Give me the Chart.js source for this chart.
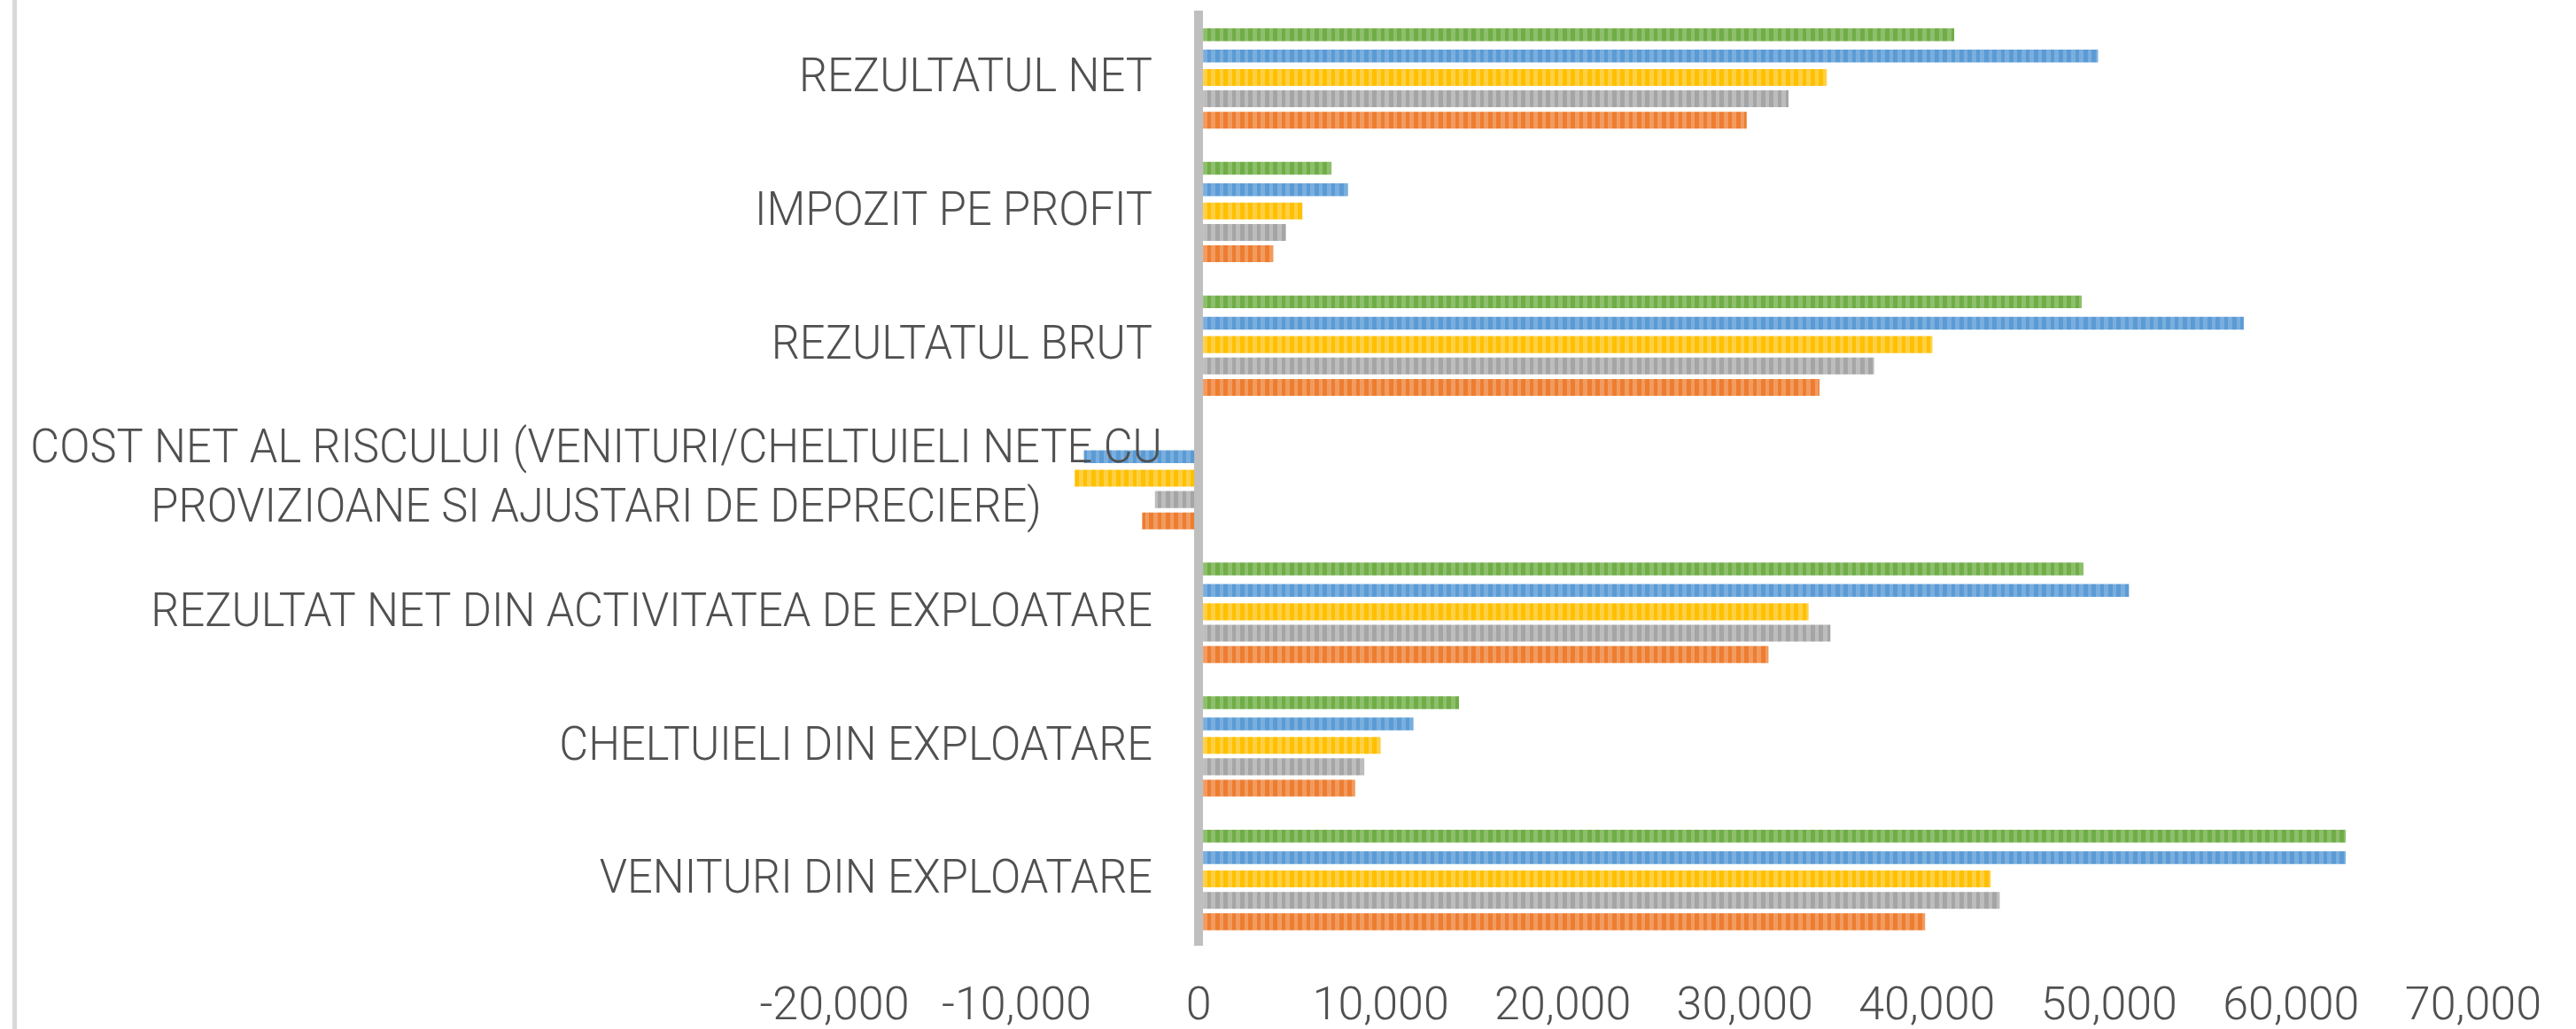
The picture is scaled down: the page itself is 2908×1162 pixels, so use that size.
<!DOCTYPE html>
<html><head><meta charset="utf-8">
<script src="https://cdn.jsdelivr.net/npm/chart.js@4.4.1/dist/chart.umd.min.js"></script>
<style>html,body{margin:0;padding:0;background:#fff;overflow:hidden}canvas{display:block}</style>
</head><body><canvas id="c" width="2908" height="1162"></canvas>
<script>
// Categories, top to bottom (multi-line labels as arrays)
const categories = [
  ['REZULTATUL NET'],
  ['IMPOZIT PE PROFIT'],
  ['REZULTATUL BRUT'],
  ['COST NET AL RISCULUI (VENITURI/CHELTUIELI NETE CU', 'PROVIZIOANE SI AJUSTARI DE DEPRECIERE)'],
  ['REZULTAT NET DIN ACTIVITATEA DE EXPLOATARE'],
  ['CHELTUIELI DIN EXPLOATARE'],
  ['VENITURI DIN EXPLOATARE']
];
// Series, drawn top to bottom within each category
const seriesNames = ['Seria 5', 'Seria 4', 'Seria 3', 'Seria 2', 'Seria 1'];
const greenValues  = [41500, 7300, 48500,     0, 48600, 14300, 63000];
const blueValues   = [49400, 8200, 57400, -6300, 51100, 11800, 63000];
const yellowValues = [34500, 5700, 40300, -6800, 33500, 10000, 43500];
const grayValues   = [32400, 4800, 37100, -2400, 34700,  9100, 44000];
const orangeValues = [30100, 4100, 34100, -3100, 31300,  8600, 39900];
// Value axis
const xMin = -20000, xMax = 70000, xStep = 10000;

function stripes(dark, light) {
  const c = document.createElement('canvas');
  c.width = 28; c.height = 4;
  const g = c.getContext('2d');
  g.fillStyle = light; g.fillRect(0, 0, 28, 4);
  g.fillStyle = dark;
  g.fillRect(0, 0, 5, 4); g.fillRect(9, 0, 5, 4); g.fillRect(19, 0, 4, 4);
  return g.createPattern(c, 'repeat');
}

const leftBorder = {
  id: 'leftBorder',
  beforeDraw(chart) {
    const ctx = chart.ctx;
    ctx.save();
    ctx.fillStyle = '#D9D9D9';
    ctx.fillRect(14, 0, 5, chart.height);
    ctx.restore();
  }
};

const catLabels = {
  id: 'catLabels',
  afterDatasetsDraw(chart) {
    const ctx = chart.ctx, xs = chart.scales.x, ys = chart.scales.y;
    const zeroX = xs.getPixelForValue(0);
    const size = 53, sx = 0.955, lh = 67, capH = 0.711 * size;
    ctx.save();
    ctx.fillStyle = '#505050';
    ctx.font = '300 ' + size + 'px Roboto';
    ctx.textBaseline = 'alphabetic';
    categories.forEach((lines, i) => {
      const cy = ys.getPixelForTick(i);
      const n = lines.length;
      lines.forEach((t, j) => {
        const by = cy - 3 + capH / 2 + (j - (n - 1) / 2) * lh;
        ctx.save();
        if (n === 1) { ctx.translate(zeroX - 52, by); ctx.textAlign = 'right'; }
        else { ctx.translate(zeroX - 680, by); ctx.textAlign = 'center'; }
        ctx.scale(sx, 1);
        ctx.fillText(t, 0, 0);
        ctx.restore();
      });
    });
    ctx.restore();
  }
};

function build() {
  const thin = 0.6, thick = 0.79;
  const mk = (label, data, dark, light, bp) => ({
    label, data, backgroundColor: stripes(dark, light), borderWidth: 0,
    barPercentage: bp, categoryPercentage: 0.8
  });
  new Chart(document.getElementById('c'), {
    type: 'bar',
    data: {
      labels: categories.map(l => l.join(' ')),
      datasets: [
        mk(seriesNames[0], greenValues,  '#70AD47', '#8DBF6C', thin),
        mk(seriesNames[1], blueValues,   '#5B9BD5', '#7AAEDE', thin),
        mk(seriesNames[2], yellowValues, '#FFC000', '#FFD044', thick),
        mk(seriesNames[3], grayValues,   '#A5A5A5', '#BDBDBD', thick),
        mk(seriesNames[4], orangeValues, '#ED7D31', '#F29B60', thick)
      ]
    },
    options: {
      indexAxis: 'y',
      responsive: false,
      devicePixelRatio: 1,
      animation: false,
      layout: { padding: { left: 942, right: 91, top: 12, bottom: 0 } },
      plugins: { legend: { display: false }, tooltip: { enabled: false } },
      scales: {
        y: { display: false },
        x: {
          min: xMin, max: xMax, z: 1,
          border: { display: false },
          grid: {
            drawTicks: false,
            color: c => (c.tick && c.tick.value === 0) ? '#BFBFBF' : 'rgba(0,0,0,0)',
            lineWidth: c => (c.tick && c.tick.value === 0) ? 10 : 1
          },
          ticks: {
            stepSize: xStep, autoSkip: false, maxRotation: 0, padding: 39,
            color: '#505050', font: { family: 'Roboto', size: 52, weight: '300' },
            callback: v => Number(v).toLocaleString('en-US')
          },
          afterFit: s => { s.height = 94; }
        }
      }
    },
    plugins: [leftBorder, catLabels]
  });
}
(document.fonts && document.fonts.load ? document.fonts.load('300 52px Roboto') : Promise.resolve()).then(build, build);
</script>
</body></html>
